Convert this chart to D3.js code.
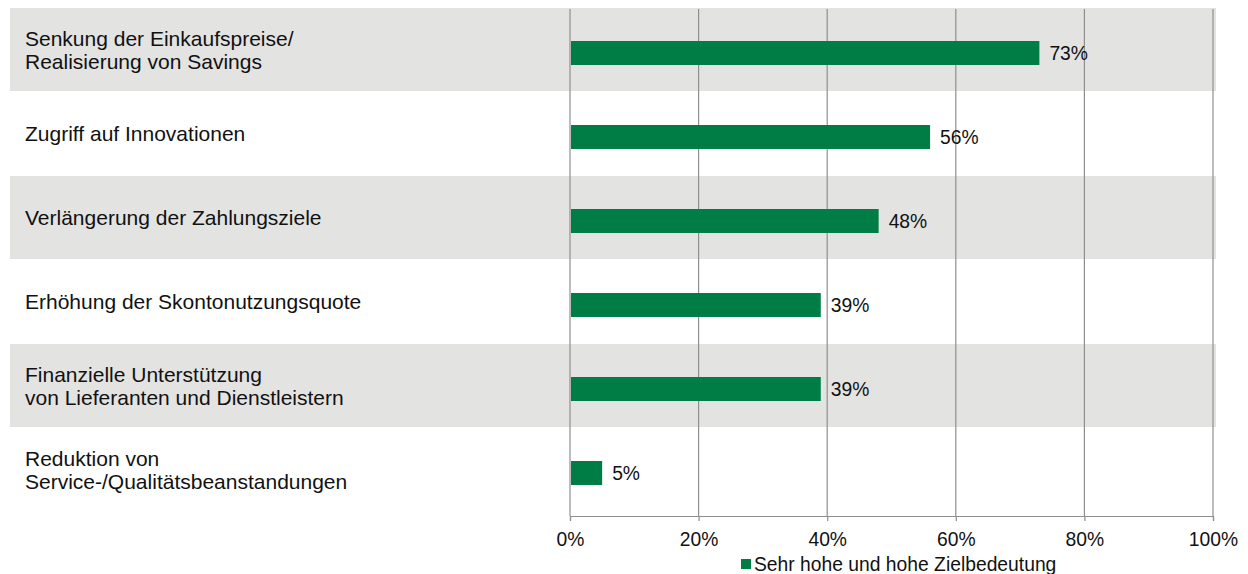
<!DOCTYPE html>
<html><head><meta charset="utf-8">
<script src="https://cdn.jsdelivr.net/npm/d3@7"></script>
<style>body{margin:0;background:#fff}svg{display:block;font-family:"Liberation Sans",Arial,sans-serif}</style>
</head><body><svg id="c" width="1248" height="574"></svg>
<script>
const categories = [
  ["Senkung der Einkaufspreise/", "Realisierung von Savings"],
  ["Zugriff auf Innovationen"],
  ["Verlängerung der Zahlungsziele"],
  ["Erhöhung der Skontonutzungsquote"],
  ["Finanzielle Unterstützung", "von Lieferanten und Dienstleistern"],
  ["Reduktion von", "Service-/Qualitätsbeanstandungen"]
];
const values = [73, 56, 48, 39, 39, 5];
const ticks = [0, 20, 40, 60, 80, 100];
const seriesName = "Sehr hohe und hohe Zielbedeutung";

const svg = d3.select("#c");
const x = d3.scaleLinear().domain([0, 100]).range([570, 1213]);
const y = d3.scaleBand().domain(d3.range(categories.length)).range([8, 512]).padding(0);
const green = "#007d45";
const smallFont = 19.3;

// alternating bands
svg.selectAll("rect.band").data(d3.range(categories.length).filter(i => i % 2 === 0))
  .enter().append("rect")
  .attr("x", 10).attr("width", 1206)
  .attr("y", i => y(i)).attr("height", y.bandwidth() - 1)
  .attr("fill", "#e3e3e2");

// grid lines
svg.selectAll("line.grid").data(ticks).enter().append("line")
  .attr("x1", d => x(d)).attr("x2", d => x(d))
  .attr("y1", 9).attr("y2", 516)
  .attr("stroke", "#8f8f8f").attr("stroke-width", 1.2);

// axis
const axis = d3.axisBottom(x).tickValues(ticks).tickSize(5).tickPadding(11)
  .tickFormat(d => d + "%");
const ag = svg.append("g").attr("transform", "translate(0,516)").call(axis);
ag.select(".domain").attr("stroke", "#8f8f8f").attr("stroke-width", 1.2);
ag.selectAll(".tick line").attr("stroke", "#8f8f8f").attr("stroke-width", 1.2);
ag.selectAll(".tick text").attr("font-size", smallFont).attr("fill", "#111")
  .attr("font-family", "Liberation Sans, Arial, sans-serif");

// bars
const barH = 24;
svg.selectAll("rect.bar").data(values).enter().append("rect")
  .attr("x", x(0) + 1)
  .attr("y", (d, i) => y(i) + y.bandwidth() / 2 + 3 - barH / 2)
  .attr("width", d => x(d) - x(0) - 1)
  .attr("height", barH)
  .attr("fill", green);

// value labels
svg.selectAll("text.val").data(values).enter().append("text")
  .attr("x", d => x(d) + 10)
  .attr("y", (d, i) => y(i) + y.bandwidth() / 2 + 3)
  .attr("dy", "0.35em")
  .attr("font-size", smallFont).attr("fill", "#111")
  .text(d => d + "%");

// category labels
categories.forEach((lines, i) => {
  const cy = y(i) + y.bandwidth() / 2;
  const lh = 23;
  const t = svg.append("text").attr("font-size", 21).attr("fill", "#111");
  lines.forEach((l, j) => {
    t.append("tspan").attr("x", 25)
      .attr("y", cy + (j - (lines.length - 1) / 2) * lh)
      .attr("dy", "0.35em").text(l);
  });
});

// legend
const lg = svg.append("g").attr("transform", "translate(741,564)");
lg.append("rect").attr("x", 0).attr("y", -5).attr("width", 10).attr("height", 10).attr("fill", green);
lg.append("text").attr("x", 13).attr("dy", "0.35em").attr("font-size", smallFont).attr("fill", "#111").text(seriesName);
</script></body></html>
